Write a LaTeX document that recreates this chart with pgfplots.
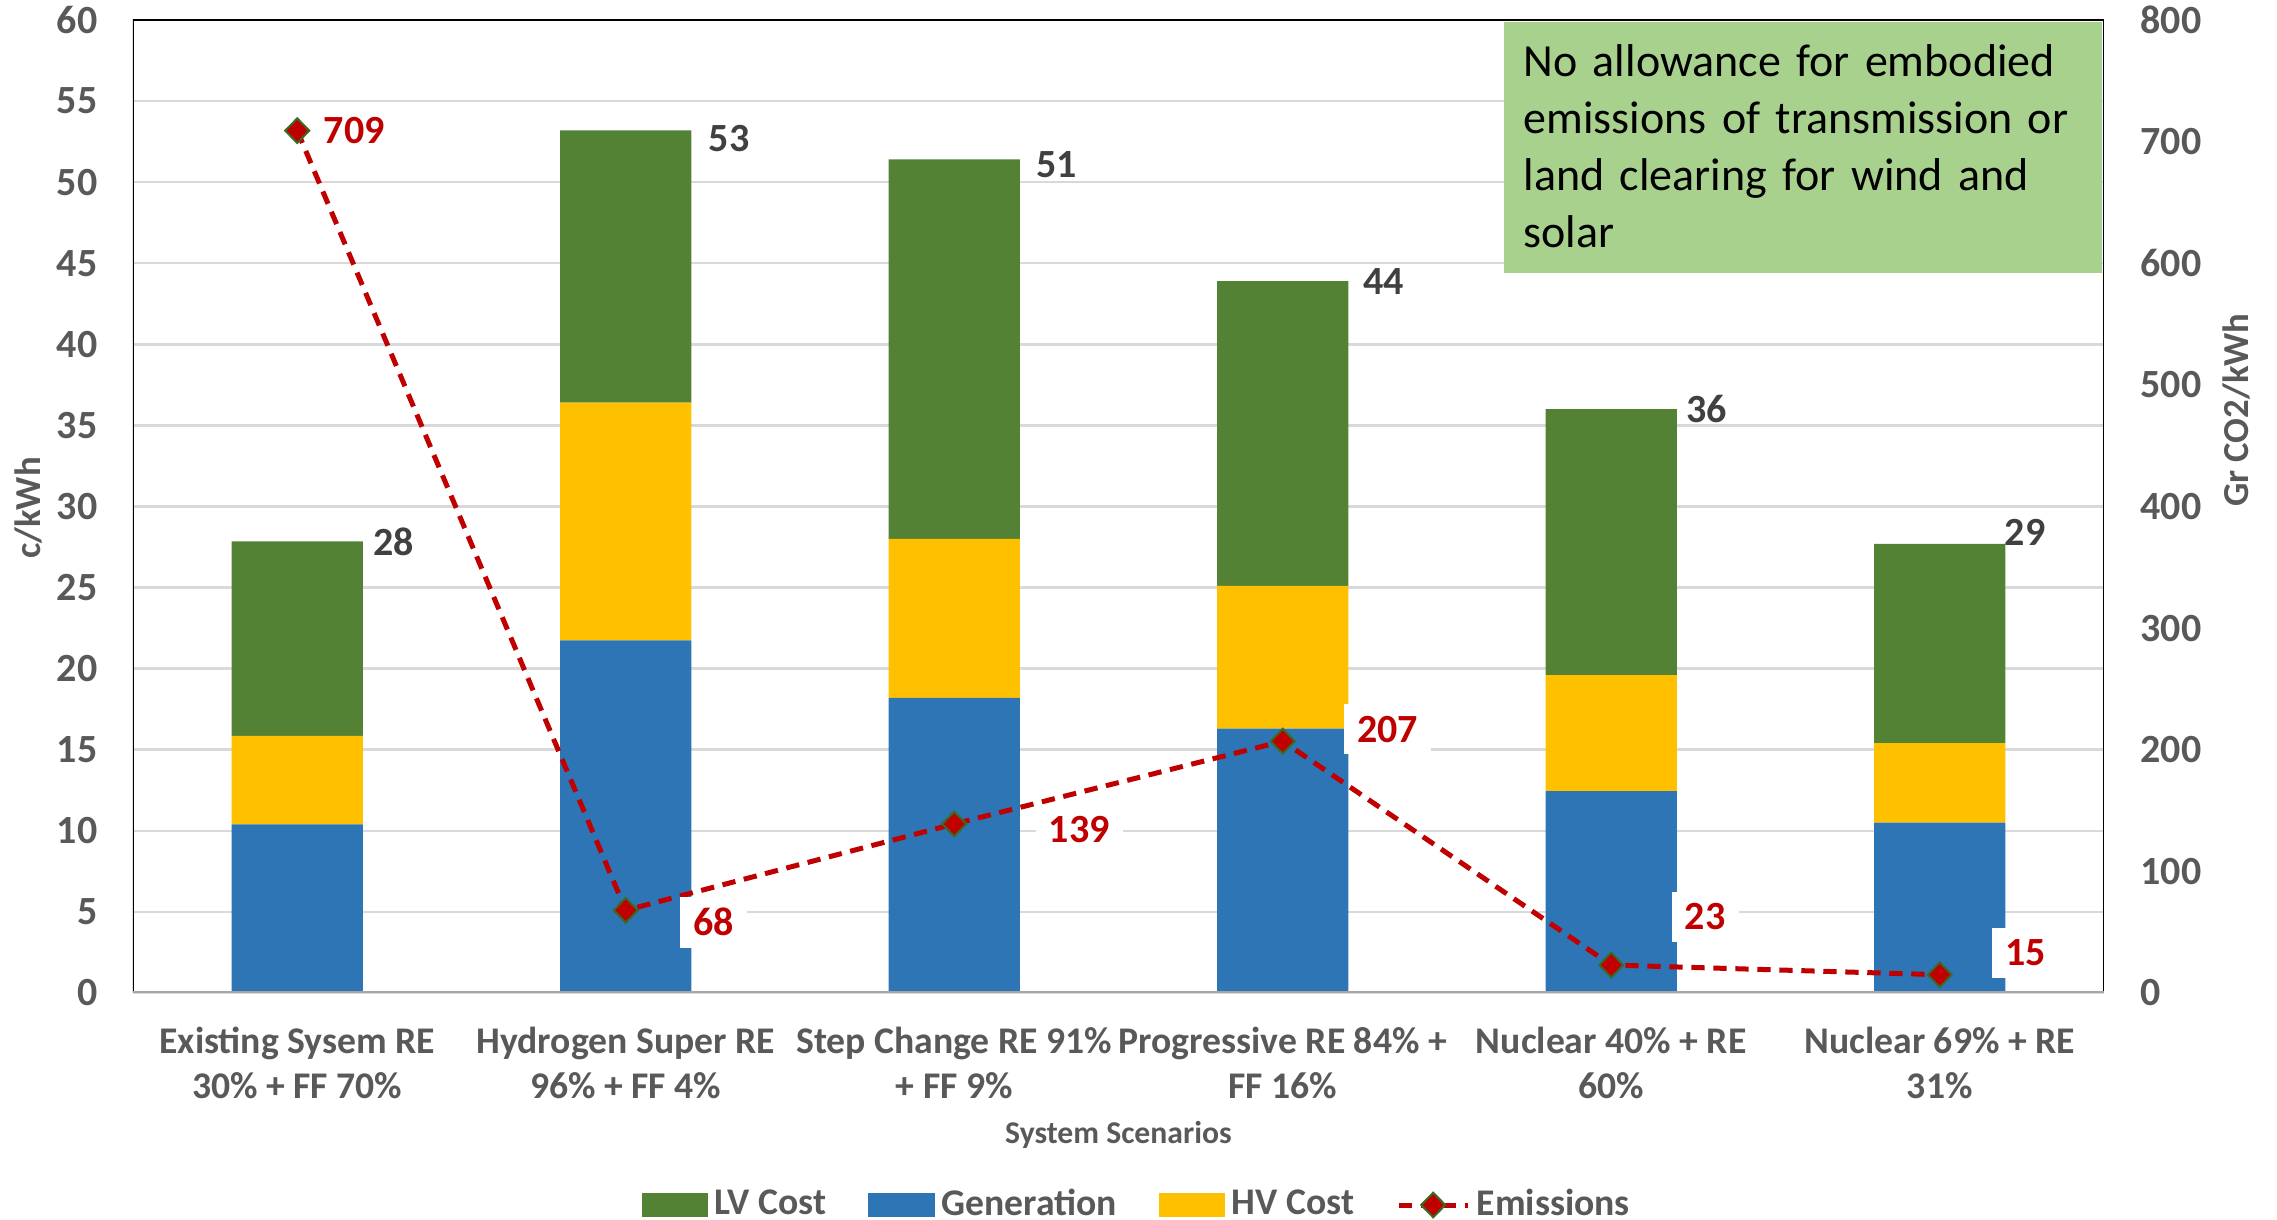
\documentclass[border=0pt]{standalone}
\usepackage{pgfplots}
\pgfplotsset{compat=1.18}
\usepackage{pgfplotstable}
\usepackage{fontspec}
\setmainfont{Carlito}

\definecolor{lvgreen}{HTML}{548235}
\definecolor{genblue}{HTML}{2E75B6}
\definecolor{hvgold}{HTML}{FFC000}
\definecolor{emred}{HTML}{C00000}
\definecolor{markedge}{HTML}{3A6B24}
\definecolor{boxgreen}{HTML}{A9D18E}
\definecolor{tickgray}{HTML}{595959}
\definecolor{labeldark}{HTML}{404040}
\definecolor{gridgray}{HTML}{D9D9D9}
\definecolor{basegray}{HTML}{A6A6A6}

% cost components per scenario (c/kWh), stacked bottom to top: gen, hv, lv
\pgfplotstableread{
x  gen   hv    lv    tot  tdx  tdy
0  10.40 5.45  12.00 28   3.0  0.0
1  21.75 14.65 16.80 53   5.1  -2.6
2  18.20 9.80  23.40 51   4.8  -1.7
3  16.30 8.80  18.80 44   4.4  0.0
4  12.45 7.15  16.40 36   2.7  0.0
5  10.50 4.90  12.30 29   -0.3 3.5
}\costdata

% emissions per scenario (g CO2/kWh) with label offsets in pt
\pgfplotstableread{
x  em   edx  edy
0  709  17.1 0.0
1  68   26.4 -3.6
2  139  37.5 -1.8
3  207  31.5 3.6
4  23   28.2 14.4
5  15   25.8 6.6
}\emdata

\newcommand\tickfont{\bfseries\fontsize{12}{14}\selectfont}
\newcommand\catfont{\bfseries\fontsize{11.3}{13.5}\selectfont}

\pgfplotsset{
  common/.style={
    at={(0,0)}, anchor=south west,
    width=591.3pt, height=291.9pt, scale only axis,
    xmin=-0.5, xmax=5.5,
    major tick length=0pt,
    axis line style={draw=none},
    /pgf/number format/assume math mode=true,
    tick label style={font=\tickfont, text=tickgray},
  },
  line with mark legend/.style={
    legend image code/.code={\draw[mark repeat=2,mark phase=2,##1] plot coordinates {(0pt,0pt) (10.35pt,0pt) (20.7pt,0pt)};}
  },
}

\begin{document}
\begin{tikzpicture}
\path[use as bounding box] (-39.9pt,-68.1pt) rectangle (643.2pt,297.9pt);

% cost bars on the left axis
\begin{axis}[
  common,
  ymin=0, ymax=60,
  ybar stacked, bar width=0.4,
  xtick={0,...,5},
  xticklabels={
    {Existing Sysem RE\\30\% + FF 70\%},
    {Hydrogen Super RE\\96\% + FF 4\%},
    {Step Change RE 91\%\\+ FF 9\%},
    {Progressive RE 84\% +\\FF 16\%},
    {Nuclear 40\% + RE\\60\%},
    {Nuclear 69\% + RE\\31\%}},
  xticklabel style={font=\catfont, align=center, anchor=center, inner sep=0pt, yshift=-20.85pt},
  ytick={0,5,...,60},
  yticklabel style={anchor=east, inner sep=0pt, xshift=-10.5pt},
  ymajorgrids, grid style={draw=gridgray, line width=0.75pt},
  xlabel={System Scenarios},
  xlabel style={at={(axis description cs:0.5,-0.146)}, anchor=center,
    font=\bfseries\fontsize{9.5}{11}\selectfont, text=tickgray},
  ylabel={c/kWh},
  ylabel style={at={(axis description cs:-0.0528,0.4985)}, anchor=center, rotate=0,
    font=\bfseries\fontsize{11}{13}\selectfont, text=tickgray},
]
\addplot[fill=genblue, draw=none] table[x=x, y=gen] {\costdata};
\addplot[fill=hvgold, draw=none] table[x=x, y=hv] {\costdata};
% totals sit beside the top of each stack (node is centred on the segment, so lift it by half the segment)
\addplot[fill=lvgreen, draw=none,
  nodes near coords, point meta=explicit symbolic,
  visualization depends on={\thisrow{tdx} \as \tdx},
  visualization depends on={\thisrow{lv}*2.4325+\thisrow{tdy} \as \tdy},
  nodes near coords style={anchor=west, inner sep=0pt,
    xshift=19.65pt+\tdx pt, yshift=\tdy pt,
    font=\tickfont, text=labeldark},
] table[x=x, y=lv, meta=tot] {\costdata};
\end{axis}

% emissions line on the right axis
\begin{axis}[
  common,
  ymin=0, ymax=800,
  hide x axis,
  ytick={0,100,...,800},
  yticklabel pos=right,
  yticklabel style={anchor=west, inner sep=0pt, xshift=10.8pt},
  ylabel={Gr CO2/kWh},
  ylabel style={at={(axis description cs:1.067,0.599)}, anchor=center, rotate=0,
    font=\bfseries\fontsize{11}{13}\selectfont, text=tickgray},
  legend columns=4,
  legend style={at={(axis description cs:0.5105,-0.2179)}, anchor=center,
    draw=none, fill=none, font=\catfont, text=tickgray,
    nodes={inner xsep=2pt},
    /tikz/every even column/.append style={column sep=10.6pt}},
]
\addlegendimage{legend image code/.code={\fill[lvgreen] (0pt,-3.3pt) rectangle (19.5pt,3.3pt);}}
\addlegendentry{LV Cost}
\addlegendimage{legend image code/.code={\fill[genblue] (0pt,-3.3pt) rectangle (19.5pt,3.3pt);}}
\addlegendentry{Generation}
\addlegendimage{legend image code/.code={\fill[hvgold] (0pt,-3.3pt) rectangle (19.5pt,3.3pt);}}
\addlegendentry{HV Cost}
\addplot[emred, line width=1.5pt, dash pattern=on 4pt off 2.6pt,
  mark=diamond*, mark size=3.7pt,
  mark options={solid, fill=emred, draw=markedge, line width=0.6pt, xscale=1.3},
  line with mark legend,
  nodes near coords, point meta=explicit symbolic,
  visualization depends on={\thisrow{edx} \as \edx},
  visualization depends on={\thisrow{edy} \as \edy},
  nodes near coords style={anchor=center, solid, fill=white, inner xsep=4pt, inner ysep=3.5pt,
    xshift=\edx pt, yshift=\edy pt, font=\tickfont, text=emred},
] table[x=x, y=em, meta=em] {\emdata};
\addlegendentry{Emissions}

% plot frame
\draw[black, line width=0.8pt] (rel axis cs:0,0) -- (rel axis cs:0,1) -- (rel axis cs:1,1) -- (rel axis cs:1,0);
\draw[basegray, line width=1.1pt] (rel axis cs:0,0) -- (rel axis cs:1,0);
\end{axis}

% note box
\fill[boxgreen] (411.3pt,216pt) rectangle (590.7pt,291.3pt);
\node[anchor=base west, inner sep=0pt, text width=175pt, align=left,
  font=\fontsize{13.8}{17.1}\selectfont]
  at (417pt,275pt) {No allowance for embodied\\emissions of transmission or\\land clearing for wind and\\solar};
\end{tikzpicture}
\end{document}
